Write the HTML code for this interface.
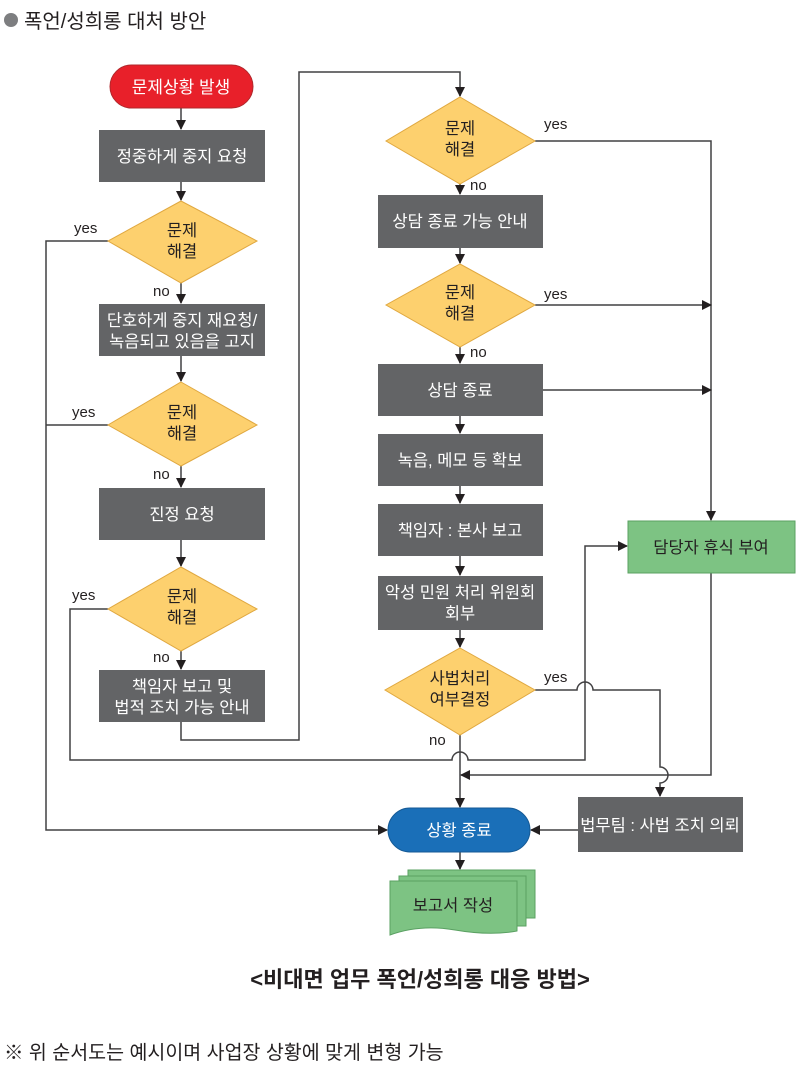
<!DOCTYPE html>
<html><head><meta charset="utf-8"><style>
body{margin:0;background:#fff;width:796px;height:1080px;overflow:hidden}
text{font-family:"Liberation Sans","Noto Sans CJK KR",sans-serif}
</style></head><body>
<svg width="796" height="1080" viewBox="0 0 796 1080" xmlns="http://www.w3.org/2000/svg">
<defs>
<marker id="a" markerWidth="10" markerHeight="10" refX="9" refY="5" orient="auto" markerUnits="userSpaceOnUse">
<path d="M0,0 L10,5 L0,10 z" fill="#231f20"/></marker>
</defs>
<circle cx="11" cy="20" r="7" fill="#7d7e80"/>
<text x="24" y="28" font-size="20" fill="#231f20">폭언/성희롱 대처 방안</text>

<g fill="none" stroke="#414042" stroke-width="1.5">
<path d="M181,108 V129" marker-end="url(#a)"/>
<path d="M181,182 V200" marker-end="url(#a)"/>
<path d="M181,283 V303" marker-end="url(#a)"/>
<path d="M181,356 V381" marker-end="url(#a)"/>
<path d="M181,466 V487" marker-end="url(#a)"/>
<path d="M181,540 V566" marker-end="url(#a)"/>
<path d="M181,651 V669" marker-end="url(#a)"/>
<path d="M181,722 V740 H299 V72 H460 V96" marker-end="url(#a)"/>
<path d="M108,241 H46 V830 H387" marker-end="url(#a)"/>
<path d="M108,425 H46"/>
<path d="M108,609 H70 V760 H452 A8,8 0 0 1 468,760 H585 V546 H627" marker-end="url(#a)"/>
<path d="M460,184 V194" marker-end="url(#a)"/>
<path d="M460,248 V263" marker-end="url(#a)"/>
<path d="M460,347 V363" marker-end="url(#a)"/>
<path d="M460,416 V433" marker-end="url(#a)"/>
<path d="M460,486 V503" marker-end="url(#a)"/>
<path d="M460,556 V575" marker-end="url(#a)"/>
<path d="M460,630 V647" marker-end="url(#a)"/>
<path d="M460,735 V807" marker-end="url(#a)"/>
<path d="M460,852 V869" marker-end="url(#a)"/>
<path d="M535,141 H711 V520" marker-end="url(#a)"/>
<path d="M535,305 H711" marker-end="url(#a)"/>
<path d="M543,390 H711" marker-end="url(#a)"/>
<path d="M535,690 H577 A8,8 0 0 1 593,690 H660 V767 A8,8 0 0 1 660,783 V796" marker-end="url(#a)"/>
<path d="M711,573 V775 H461" marker-end="url(#a)"/>
<path d="M578,830 H531" marker-end="url(#a)"/>
</g>

<rect x="110" y="65" width="143" height="43" rx="21.5" fill="#e8202a" stroke="#b0282c"/>
<text x="181" y="93" font-size="17" fill="#fff" text-anchor="middle">문제상황 발생</text>

<g fill="#636466">
<rect x="99" y="130" width="166" height="52"/>
<rect x="99" y="304" width="166" height="52"/>
<rect x="99" y="488" width="166" height="52"/>
<rect x="99" y="670" width="166" height="52"/>
<rect x="378" y="195" width="165" height="53"/>
<rect x="378" y="364" width="165" height="52"/>
<rect x="378" y="434" width="165" height="52"/>
<rect x="378" y="504" width="165" height="52"/>
<rect x="378" y="576" width="165" height="54"/>
<rect x="578" y="797" width="165" height="55"/>
</g>
<g fill="#fdd06e" stroke="#e0a840" stroke-width="1">
<polygon points="181,201 257,241 181,283 108,241"/>
<polygon points="181,382 257,425 181,466 108,425"/>
<polygon points="181,567 257,609 181,651 108,609"/>
<polygon points="460,97 535,141 460,184 386,141"/>
<polygon points="460,264 535,305 460,347 386,305"/>
<polygon points="460,648 535,690 460,735 385,690"/>
</g>
<rect x="628" y="521" width="167" height="52" fill="#7dc383" stroke="#5aa062"/>
<rect x="388" y="808" width="142" height="44" rx="22" fill="#1a6fb8" stroke="#155a96"/>
<g fill="#7dc383" stroke="#5aa062">
<rect x="408" y="870" width="127" height="48"/>
<rect x="399" y="876" width="127" height="50"/>
<path d="M390,881 H517 V931 Q490,936 455,930 Q420,924 390,935 Z"/>
</g>

<g font-size="16.5" fill="#fff" text-anchor="middle">
<text x="182" y="162">정중하게 중지 요청</text>
<text x="182" y="326">단호하게 중지 재요청/</text>
<text x="182" y="347">녹음되고 있음을 고지</text>
<text x="182" y="520">진정 요청</text>
<text x="182" y="692">책임자 보고 및</text>
<text x="182" y="713">법적 조치 가능 안내</text>
<text x="460" y="227">상담 종료 가능 안내</text>
<text x="460" y="396">상담 종료</text>
<text x="460" y="466">녹음, 메모 등 확보</text>
<text x="460" y="536">책임자 : 본사 보고</text>
<text x="460" y="598">악성 민원 처리 위원회</text>
<text x="460" y="619">회부</text>
<text x="660" y="831">법무팀 : 사법 조치 의뢰</text>
<text x="459" y="836">상황 종료</text>
</g>
<g font-size="16.5" fill="#231f20" text-anchor="middle">
<text x="182" y="236">문제</text><text x="182" y="257">해결</text>
<text x="182" y="418">문제</text><text x="182" y="439">해결</text>
<text x="182" y="602">문제</text><text x="182" y="623">해결</text>
<text x="460" y="134">문제</text><text x="460" y="155">해결</text>
<text x="460" y="298">문제</text><text x="460" y="319">해결</text>
<text x="460" y="684">사법처리</text><text x="460" y="705">여부결정</text>
<text x="711" y="553">담당자 휴식 부여</text>
<text x="453" y="911">보고서 작성</text>
</g>
<g font-size="15" fill="#231f20">
<text x="74" y="233">yes</text>
<text x="72" y="417">yes</text>
<text x="72" y="600">yes</text>
<text x="153" y="296">no</text>
<text x="153" y="479">no</text>
<text x="153" y="662">no</text>
<text x="544" y="129">yes</text>
<text x="544" y="299">yes</text>
<text x="544" y="682">yes</text>
<text x="470" y="190">no</text>
<text x="470" y="357">no</text>
<text x="429" y="745">no</text>
</g>
<text x="420" y="987" font-size="22" font-weight="bold" fill="#231f20" text-anchor="middle">&lt;비대면 업무 폭언/성희롱 대응 방법&gt;</text>
<text x="4" y="1059" font-size="19.5" fill="#231f20">※ 위 순서도는 예시이며 사업장 상황에 맞게 변형 가능</text>
</svg>
</body></html>
